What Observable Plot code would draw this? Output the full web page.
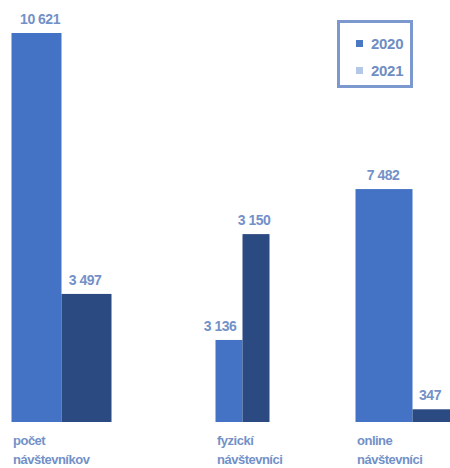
<!DOCTYPE html>
<html>
<head>
<meta charset="utf-8">
<script src="https://cdn.jsdelivr.net/npm/d3@7"></script>
<script src="https://cdn.jsdelivr.net/npm/@observablehq/plot@0.6"></script>
<style>
  body { margin: 0; background: #fff; font-family: "Liberation Sans", Arial, sans-serif; }
  #wrap { position: relative; width: 450px; height: 468px; overflow: hidden; }
  #legend { position: absolute; left: 337px; top: 20px; width: 76px; height: 68px; box-sizing: border-box;
    border: 3px solid #7B98CF; background: #fff; }
  .row { position: absolute; left: 16px; display: flex; align-items: center; font-size: 15px; color: #6F8DC4; font-weight: bold; letter-spacing: -0.3px; }
  .sw { width: 7px; height: 7px; margin-right: 8px; }
</style>
</head>
<body>
<div id="wrap"></div>
<script>
const categories = ["počet\nnávštevníkov", "fyzickí\nnávštevníci", "online\nnávštevníci"];
const years = ["2020", "2021"];
// values printed on the bars
const values2020 = [10621, 3136, 7482];
const values2021 = [3497, 3150, 347];
// bar heights as drawn in the picture (on the same scale as 10 621)
const drawn2020 = [10621, 2240, 6360];
const drawn2021 = [3497, 5130, 347];
const legendColors = ["#4A78C2", "#B4C7E7"];

const barColors = {"2020": "#4472C4", "2021": "#2B4A82"};
const labelColor = "#7391C8";
const fmt = v => d3.format(",")(v).replace(/,/g, " ");

// per-group bar geometry: offsets (px) from the band centre
const geom = [
  {left: -50, mid: 0, right: 50, l20: -22, l21: 23},
  {left: -21, mid: 6, right: 33, l20: -17, l21: 17},
  {left: -56, mid: 1, right: 58, l20: -29, l21: 18}
];
const half = 87.5;

const marks = [];
categories.forEach((c, i) => {
  const g = geom[i];
  const r20 = [{category: c, value: values2020[i], drawn: drawn2020[i]}];
  const r21 = [{category: c, value: values2021[i], drawn: drawn2021[i]}];
  marks.push(
    Plot.barY(r20, {x: "category", y: "drawn", fill: barColors["2020"], insetLeft: half + g.left, insetRight: half - g.mid}),
    Plot.barY(r21, {x: "category", y: "drawn", fill: barColors["2021"], insetLeft: half + g.mid, insetRight: half - g.right}),
    Plot.text(r20, {x: "category", y: "drawn", text: d => fmt(d.value), dx: g.l20, dy: -14,
      fill: labelColor, fontSize: 14, fontWeight: "bold"}),
    Plot.text(r21, {x: "category", y: "drawn", text: d => fmt(d.value), dx: g.l21, dy: -14,
      fill: labelColor, fontSize: 14, fontWeight: "bold"}),
    Plot.text([c], {x: d => d, y: 0, text: d => d, dx: g.left + 1, dy: 9, textAnchor: "start", lineAnchor: "top",
      lineHeight: 1.45, fill: labelColor, fontSize: 13, fontWeight: "bold"})
  );
});

const chart = Plot.plot({
  width: 450, height: 468,
  marginTop: 33, marginBottom: 46, marginLeft: 0, marginRight: 0,
  style: {fontFamily: '"Liberation Sans", Arial, sans-serif', overflow: "hidden"},
  x: {domain: categories, range: [-26.5, 498.5], padding: 0, axis: null},
  y: {domain: [0, d3.max(drawn2020.concat(drawn2021))], axis: null},
  marks
});
chart.querySelectorAll("text").forEach(t => t.style.letterSpacing = "-0.5px");
const wrap = document.getElementById("wrap");
wrap.appendChild(chart);

const legend = document.createElement("div");
legend.id = "legend";
years.forEach((y, i) => {
  const r = document.createElement("div");
  r.className = "row";
  r.style.top = (i === 0 ? 12 : 39) + "px";
  r.innerHTML = `<span class="sw" style="background:${legendColors[i]}"></span>${y}`;
  legend.appendChild(r);
});
wrap.appendChild(legend);
</script>
</body>
</html>
